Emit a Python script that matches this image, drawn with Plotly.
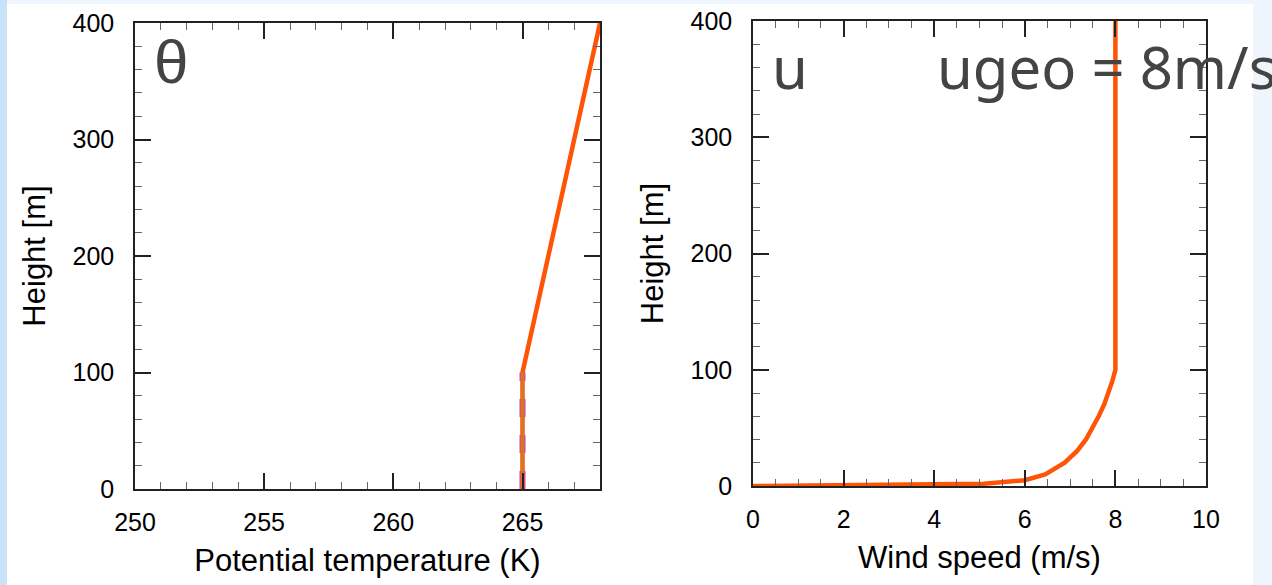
import plotly.graph_objects as go

# ---- data ----
theta_height = [0, 100, 400]
theta_final = [265, 265, 268]
theta_low_height = [0, 100]
theta_low_a = [265, 265]
theta_low_b = [265, 265]

wind_height = [0, 1, 2, 5, 10, 20, 30, 40, 50, 60, 70, 80, 90, 100, 400]
wind_speed = [0, 4.8, 5.1, 6.0, 6.45, 6.88, 7.15, 7.35, 7.5, 7.63, 7.75, 7.85, 7.93, 8.0, 8.0]

theta_ticks = [250, 255, 260, 265]
wind_ticks = [0, 2, 4, 6, 8, 10]
height_ticks = [0, 100, 200, 300, 400]

ORANGE = "#FF5306"
AXC = "#222222"
TICKFONT = dict(family="Liberation Sans, Arial", size=25, color="black")
TITLEFONT = dict(family="Liberation Sans, Arial", size=31, color="black")

fig = go.Figure()

fig.add_trace(go.Scatter(x=theta_low_a, y=theta_low_height, mode="lines",
                         line=dict(color="#A64DF0", width=6, dash="dash"),
                         xaxis="x", yaxis="y", showlegend=False))
fig.add_trace(go.Scatter(x=theta_final, y=theta_height, mode="lines",
                         line=dict(color=ORANGE, width=4.5),
                         xaxis="x", yaxis="y", showlegend=False))
fig.add_trace(go.Scatter(x=theta_low_b, y=theta_low_height, mode="lines",
                         line=dict(color="#D4762A", width=3),
                         xaxis="x", yaxis="y", showlegend=False))

fig.add_trace(go.Scatter(x=wind_speed, y=wind_height, mode="lines",
                         line=dict(color=ORANGE, width=4.5),
                         xaxis="x2", yaxis="y2", showlegend=False))

def xax(domain, rng, ticks, minor_dtick, title, anchor):
    return dict(domain=domain, range=rng, anchor=anchor, automargin=False,
                tickmode="array", tickvals=ticks, ticktext=[str(t) for t in ticks],
                ticks="inside", ticklen=16, tickwidth=1.5, tickcolor=AXC,
                minor=dict(ticks="inside", ticklen=7, tickwidth=1.2, tickcolor="#666",
                           dtick=minor_dtick, showgrid=False),
                showline=True, linecolor=AXC, linewidth=1.5, mirror="allticks",
                showgrid=False, zeroline=False, tickfont=TICKFONT,
                ticklabelstandoff=10,
                title=dict(text=title, font=TITLEFONT, standoff=15))

def yax(domain, anchor, title):
    return dict(domain=domain, range=[0, 400], anchor=anchor, automargin=False,
                tickmode="array", tickvals=height_ticks,
                ticks="inside", ticklen=16, tickwidth=1.5, tickcolor=AXC,
                minor=dict(ticks="inside", ticklen=7, tickwidth=1.2, tickcolor="#666",
                           dtick=20, showgrid=False),
                showline=True, linecolor=AXC, linewidth=1.5, mirror="allticks",
                showgrid=False, zeroline=False, tickfont=TICKFONT,
                ticklabelstandoff=14,
                title=dict(text=title, font=TITLEFONT, standoff=18))

fig.update_layout(
    width=1272, height=585,
    margin=dict(l=0, r=0, t=0, b=0, autoexpand=False),
    paper_bgcolor="#EEF5FD",
    plot_bgcolor="white",
    xaxis=xax([135/1272, 600/1272], [250, 268], theta_ticks, 1,
              "Potential temperature (K)", "y"),
    yaxis=yax([96/585, 562/585], "x", "Height [m]"),
    xaxis2=xax([753/1272, 1206/1272], [0, 10], wind_ticks, 0.5,
               "Wind speed (m/s)", "y2"),
    yaxis2=yax([99/585, 564/585], "x2", "Height [m]"),
    shapes=[
        dict(type="rect", xref="paper", yref="paper", x0=0, x1=7/1272, y0=0, y1=1,
             fillcolor="#C8E2F9", line=dict(width=0), layer="below"),
        dict(type="rect", xref="paper", yref="paper", x0=7/1272, x1=1253/1272,
             y0=0, y1=1 - 4/585, fillcolor="white", line=dict(width=0), layer="below"),
    ],
    annotations=[
        dict(text="θ", xref="paper", yref="paper", x=171/1272, y=1 - 62/585,
             xanchor="center", yanchor="middle", showarrow=False,
             font=dict(family="Liberation Sans, Arial", size=62, color="#444")),
        dict(text="u", xref="paper", yref="paper", x=790/1272, y=1 - 66/585,
             xanchor="center", yanchor="middle", showarrow=False,
             font=dict(family="Noto Sans", size=58, color="#444")),
        dict(text="ugeo = 8m/s", xref="paper", yref="paper", x=935/1272, y=1 - 66/585,
             xanchor="left", yanchor="middle", showarrow=False,
             font=dict(family="Noto Sans", size=58, color="#444")),
    ],
)

fig.write_html("out.html")
